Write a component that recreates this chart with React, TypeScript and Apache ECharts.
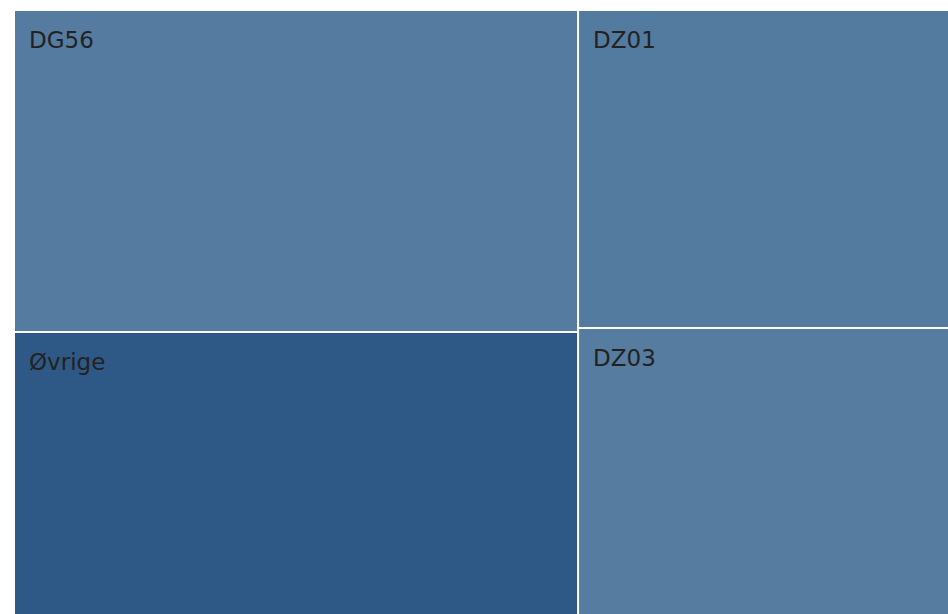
import React, { useEffect, useRef } from "react";
import * as echarts from "echarts";

const names = ["DG56", "Øvrige", "DZ01", "DZ03"];
const values = [180723, 172278, 153745, 150350];
const colors = ["#557ba0", "#2e5986", "#537a9f", "#567ca0"];

export default function App() {
  const ref = useRef<HTMLDivElement>(null);
  useEffect(() => {
    if (!ref.current) return;
    const chart = echarts.init(ref.current, null, { renderer: "svg" });
    chart.setOption({
      animation: false,
      tooltip: { show: false },
      series: [
        {
          type: "treemap",
          left: 15,
          top: 11,
          width: 1048,
          height: 627,
          roam: false,
          nodeClick: false,
          breadcrumb: { show: false },
          squareRatio: 1,
          levels: [
            {
              itemStyle: { borderWidth: 0, gapWidth: 2, borderColor: "#fff" },
            },
          ],
          label: {
            show: true,
            position: [14, 17],
            padding: 0,
            color: "#222",
            fontSize: 23,
            fontFamily: "DejaVu Sans",
          },
          data: names.map((n, i) => ({
            name: n,
            value: values[i],
            itemStyle: { color: colors[i] },
          })),
        },
      ],
    });
    return () => chart.dispose();
  }, []);
  return (
    <div style={{ position: "fixed", left: 0, top: 0, width: 948, height: 614, overflow: "hidden", background: "#fff" }}>
      <div ref={ref} style={{ width: 1100, height: 700 }} />
    </div>
  );
}
